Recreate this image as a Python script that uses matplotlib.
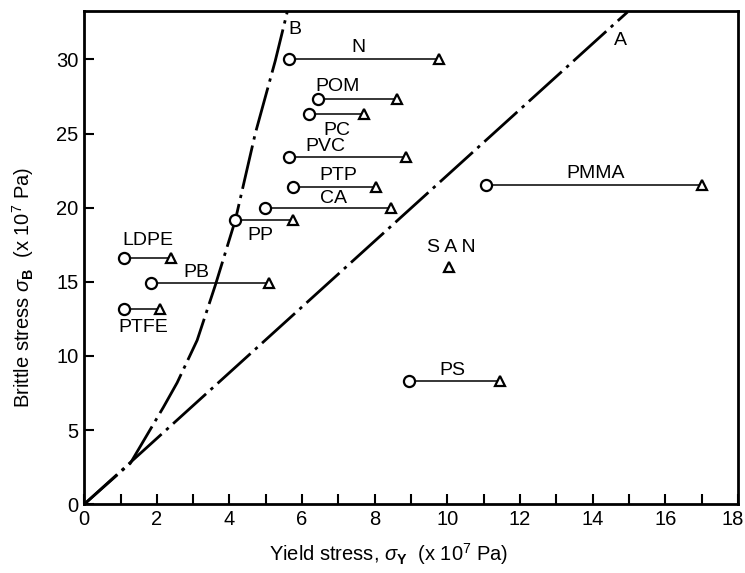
import matplotlib.pyplot as plt
import matplotlib.transforms as mtransforms

plt.rcParams['font.family'] = ['Liberation Sans', 'DejaVu Sans']
plt.rcParams['mathtext.fontset'] = 'custom'
plt.rcParams['mathtext.rm'] = 'Liberation Sans'
plt.rcParams['mathtext.it'] = 'Liberation Sans:italic'
plt.rcParams['mathtext.bf'] = 'Liberation Sans:bold'

# polymers: yield stress (circle), brittle stress (triangle), y level
polymers = ['N', 'POM', 'PC', 'PVC', 'PTP', 'CA', 'PP', 'LDPE', 'PB', 'PTFE', 'PMMA', 'PS']
x_circle = [5.65, 6.45, 6.2, 5.65, 5.76, 4.99, 4.16, 1.1, 1.85, 1.1, 11.05, 8.93]
x_tri = [9.78, 8.62, 7.69, 8.87, 8.04, 8.46, 5.76, 2.4, 5.1, 2.1, 17.0, 11.46]
y_level = [30.0, 27.3, 26.3, 23.4, 21.4, 20.0, 19.15, 16.6, 14.9, 13.2, 21.5, 8.3]
label_x = [7.55, 6.97, 6.97, 6.64, 7.0, 6.86, 4.85, 1.74, 3.09, 1.63, 14.08, 10.14]
label_y = [30.8, 28.2, 25.2, 24.1, 22.2, 20.6, 18.1, 17.8, 15.6, 11.9, 22.3, 9.0]

# SAN only has a triangle
san_x, san_y = 10.05, 16.0

# line A (straight) and line B (curved)
lineA_x = [0, 14.96]
lineA_y = [0, 33.2]
lineB_x = [0, 1.27, 2.18, 2.56, 3.11, 3.61, 4.16, 4.71, 5.26, 5.59]
lineB_y = [0, 2.76, 6.54, 8.2, 11.06, 14.77, 19.15, 25.0, 29.9, 33.2]

fig = plt.figure(figsize=(7.45, 5.73), dpi=100)
ax = fig.add_axes([0.113, 0.12, 0.8776, 0.8604])

dash = (16, 2.2, 1.2, 2.2)
ax.plot(lineA_x, lineA_y, color='black', lw=2, dashes=dash)
ax.plot(lineB_x, lineB_y, color='black', lw=2, dashes=dash)

for i in range(len(polymers)):
    ax.plot([x_circle[i], x_tri[i]], [y_level[i], y_level[i]], color='black', lw=1.1)
    ax.plot(x_circle[i], y_level[i], 'o', ms=8, mfc='white', mec='black', mew=1.6)
    ax.plot(x_tri[i], y_level[i], '^', ms=7, mfc='white', mec='black', mew=1.6)
    ax.text(label_x[i], label_y[i], polymers[i], fontsize=14, ha='center', va='center')

ax.plot(san_x, san_y, '^', ms=7, mfc='white', mec='black', mew=1.6)
ax.text(san_x + 0.05, san_y + 1.3, 'S A N', fontsize=14, ha='center', va='center')

ax.text(5.81, 32.0, 'B', fontsize=14, ha='center', va='center')
ax.text(14.77, 31.3, 'A', fontsize=14, ha='center', va='center')

ax.set_xlim(0, 18)
ax.set_ylim(0, 33.25)
ax.set_xticks(range(0, 19, 2))
ax.set_xticks(range(0, 19), minor=True)
ax.set_yticks(range(0, 31, 5))
ax.tick_params(which='both', direction='in', length=7, width=1.5, labelsize=14.5, pad=4)
for s in ax.spines.values():
    s.set_linewidth(2)

# nudge the last x label so it stays inside the figure
last = ax.get_xticklabels()[-1]
last.set_transform(last.get_transform() + mtransforms.ScaledTranslation(-4 / 72, 0, fig.dpi_scale_trans))

ax.set_xlabel(r'Yield stress, $\sigma_{\mathbf{Y}}$  (x 10$^7$ Pa)', fontsize=14.5)
ax.set_ylabel(r'Brittle stress $\sigma_{\mathbf{B}}$  (x 10$^7$ Pa)', fontsize=14.5)
ax.xaxis.set_label_coords(0.466, -0.075)
ax.yaxis.set_label_coords(-0.074, 0.44)

plt.savefig('out.png', dpi=100)
